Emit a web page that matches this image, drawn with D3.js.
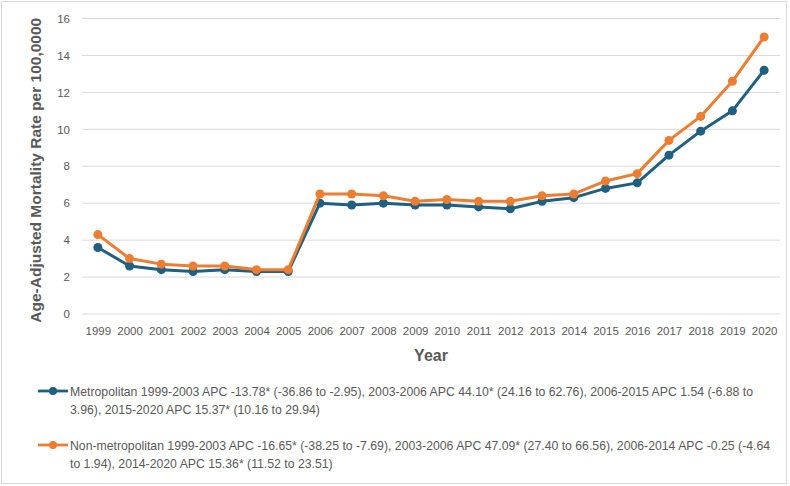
<!DOCTYPE html>
<html><head><meta charset="utf-8">
<script src="https://cdn.jsdelivr.net/npm/d3@7"></script>
<style>body{margin:0;background:#fff}svg{display:block}</style>
</head><body>
<svg id="c" width="790" height="486"></svg>
<script>
const years = ["1999","2000","2001","2002","2003","2004","2005","2006","2007","2008","2009","2010","2011","2012","2013","2014","2015","2016","2017","2018","2019","2020"];
const metro = [3.6,2.6,2.4,2.3,2.4,2.3,2.3,6.0,5.9,6.0,5.9,5.9,5.8,5.7,6.1,6.3,6.8,7.1,8.6,9.9,11.0,13.2];
const nonMetro = [4.3,3.0,2.7,2.6,2.6,2.4,2.4,6.5,6.5,6.4,6.1,6.2,6.1,6.1,6.4,6.5,7.2,7.6,9.4,10.7,12.6,15.0];
const yTicks = [0,2,4,6,8,10,12,14,16];
const seriesNames = ["Metropolitan","Non-metropolitan"];
const legendLines = [
 ["Metropolitan 1999-2003 APC -13.78* (-36.86 to -2.95), 2003-2006 APC 44.10* (24.16 to 62.76), 2006-2015 APC 1.54 (-6.88 to","3.96), 2015-2020 APC 15.37* (10.16 to 29.94)"],
 ["Non-metropolitan 1999-2003 APC -16.65* (-38.25 to -7.69), 2003-2006 APC 47.09* (27.40 to 66.56), 2006-2014 APC -0.25 (-4.64","to 1.94), 2014-2020 APC 15.36* (11.52 to 23.51)"]
];
const colors = ["#1f5f80","#ed7d31"];

const svg = d3.select("#c");
svg.append("rect").attr("x",1.5).attr("y",1.5).attr("width",785).attr("height",482)
  .attr("fill","#fff").attr("stroke","#d9d9d9");

const L=82,R=780,T=18.5,B=314;
const x = d3.scalePoint().domain(years).range([L,R]).padding(0.5);
const y = d3.scaleLinear().domain([0,16]).range([B,T]);

const g = svg.append("g");
g.selectAll("line.grid").data(yTicks).join("line")
  .attr("x1",L).attr("x2",R).attr("y1",d=>y(d)).attr("y2",d=>y(d))
  .attr("stroke","#d9d9d9").attr("stroke-width",1);

const yAxis = g.append("g").attr("transform",`translate(${L},0)`)
  .call(d3.axisLeft(y).tickValues(yTicks).tickSize(0).tickPadding(12));
yAxis.select(".domain").remove();
yAxis.selectAll("text").attr("fill","#595959").style("font-family","Liberation Sans, Arial, sans-serif").style("font-size","11.5px");

const xAxis = g.append("g").attr("transform",`translate(0,${B})`)
  .call(d3.axisBottom(x).tickSize(0).tickPadding(13));
xAxis.select(".domain").remove();
xAxis.selectAll("text").attr("fill","#595959").style("font-family","Liberation Sans, Arial, sans-serif").style("font-size","11.5px");

const data=[metro,nonMetro];
data.forEach((vals,i)=>{
  const line=d3.line().x((d,j)=>x(years[j])).y(d=>y(d));
  g.append("path").attr("d",line(vals)).attr("fill","none").attr("stroke",colors[i]).attr("stroke-width",3).attr("stroke-linejoin","round");
  g.selectAll(null).data(vals).join("circle").attr("cx",(d,j)=>x(years[j])).attr("cy",d=>y(d)).attr("r",4.5).attr("fill",colors[i]);
});

svg.append("text").attr("transform",`translate(41,${(T+B)/2+4}) rotate(-90)`).attr("text-anchor","middle")
  .attr("fill","#595959").style("font-family","Liberation Sans, Arial, sans-serif").style("font-weight","bold").style("font-size","15.5px")
  .text("Age-Adjusted Mortality Rate per 100,0000");
svg.append("text").attr("x",(L+R)/2).attr("y",361).attr("text-anchor","middle")
  .attr("fill","#595959").style("font-family","Liberation Sans, Arial, sans-serif").style("font-weight","bold").style("font-size","16px")
  .text("Year");

const legY=[391,445];
legendLines.forEach((lines,i)=>{
  const ly=legY[i];
  svg.append("line").attr("x1",38).attr("x2",68).attr("y1",ly).attr("y2",ly).attr("stroke",colors[i]).attr("stroke-width",2.8);
  svg.append("circle").attr("cx",53).attr("cy",ly).attr("r",4).attr("fill",colors[i]);
  lines.forEach((t,k)=>{
    svg.append("text").attr("x",70).attr("y",ly+4.5+k*18.5).attr("fill","#595959")
      .style("font-family","Liberation Sans, Arial, sans-serif").style("font-size","12.25px").text(t);
  });
});
</script>
</body></html>
